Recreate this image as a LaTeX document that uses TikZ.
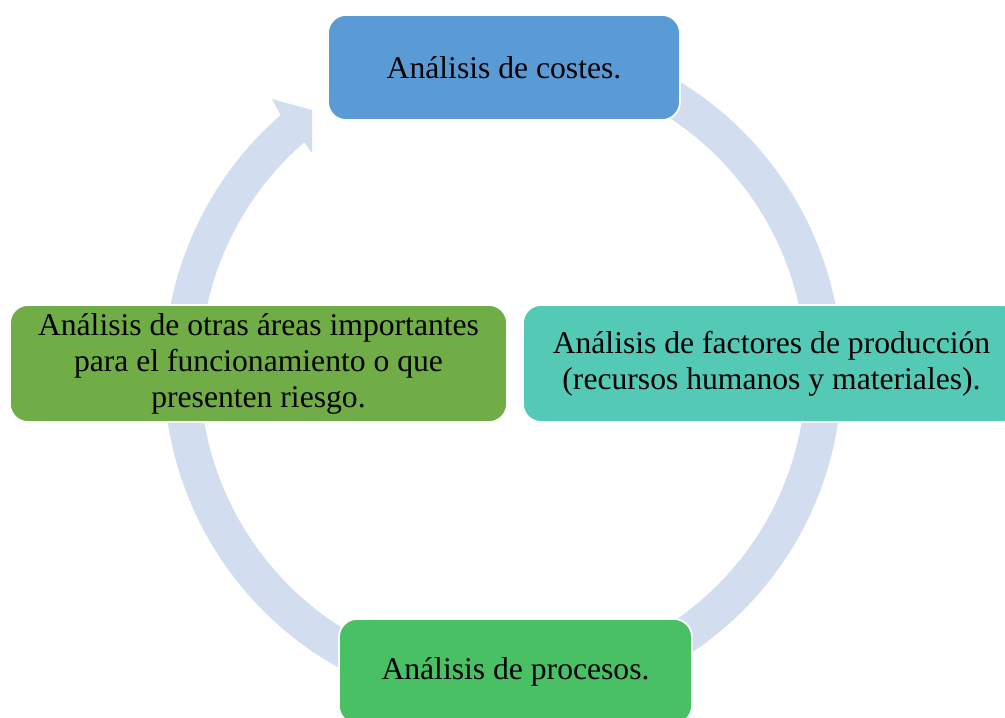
\documentclass[tikz,border=0pt]{standalone}
\usepackage{fontspec}
\setmainfont{Liberation Serif}
\usetikzlibrary{calc}

\definecolor{ringblue}{HTML}{D2DEEF}
\definecolor{boxblue}{HTML}{5B9BD5}
\definecolor{boxteal}{HTML}{53C9B6}
\definecolor{boxolive}{HTML}{70AD47}
\definecolor{boxgreen}{HTML}{4AC065}

\begin{document}
\begin{tikzpicture}[
    stage/.style={draw=white,line width=1pt,rounded corners=.36cm,align=center,
        font=\fontsize{18}{20.5}\selectfont,inner sep=0pt}
]

\useasboundingbox (0,0) rectangle (20.1,-14.36);
\clip (0,0) rectangle (20.1,-14.36);

% Draw the ring with its arrow head
\coordinate (ctr) at (10.06,-7.42);
\coordinate (barb) at (5.44,-1.98);
\coordinate (cuttop) at (6.24,-2.20);
\coordinate (cutbot) at (6.24,-3.06);
\fill[ringblue] ($(ctr)+(80:6.78)$) arc[start angle=80,end angle=-229,radius=6.78]
    -- (barb) -- (cuttop) -- (cutbot)
    -- ($(ctr)+(131:6.06)$) arc[start angle=131,end angle=440,radius=6.06] -- cycle;

% Draw the four stages
\node[stage,fill=boxblue,minimum width=7.04cm,minimum height=2.1cm] (costes) at (10.08,-1.35)
    {Análisis de costes.};
\node[stage,fill=boxteal,minimum width=9.94cm,minimum height=2.34cm] (factores) at (15.43,-7.27)
    {Análisis de factores de producción\\(recursos humanos y materiales).};
\node[stage,fill=boxgreen,minimum width=7.06cm,minimum height=2.1cm] (procesos) at (10.31,-13.43)
    {Análisis de procesos.};
\node[stage,fill=boxolive,minimum width=9.94cm,minimum height=2.34cm] (otras) at (5.17,-7.27)
    {Análisis de otras áreas importantes\\para el funcionamiento o que\\presenten riesgo.};

\end{tikzpicture}
\end{document}
